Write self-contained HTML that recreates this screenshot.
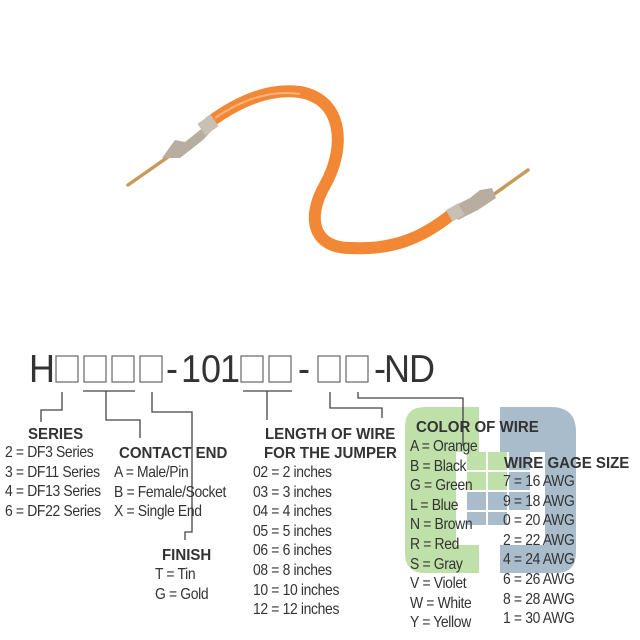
<!DOCTYPE html>
<html><head><meta charset="utf-8"><style>
body{margin:0;width:640px;height:640px;background:#fff;position:relative;overflow:hidden;font-family:"Liberation Sans",sans-serif;color:#333}
.t{position:absolute;font-size:16px;line-height:19.6px;white-space:nowrap;letter-spacing:-0.4px;transform:scaleX(0.87);transform-origin:0 0}
.h{position:absolute;font-size:16px;font-weight:bold;white-space:nowrap;color:#333;transform:scaleX(0.94);transform-origin:0 0;line-height:19.5px}
</style></head><body>
<svg width="640" height="640" style="position:absolute;left:0;top:0">
<path d="M210 122 C240 100 270 88 300 92 C345 100 345 150 325 185 C305 220 315 248 350 248 C390 250 420 240 452 214" stroke="#f28835" stroke-width="12" fill="none" stroke-linecap="round"/>
<path d="M215 118 C245 98 272 90 300 94" stroke="#f8b27a" stroke-width="2" fill="none"/>
<line x1="128" y1="185" x2="168" y2="157" stroke="#c89a5a" stroke-width="3.5" stroke-linecap="round"/>
<path d="M162 158 L175 140 L185 142 L200 130 L208 124 L214 128 L203 140 L180 158 Z" fill="#b8aea0"/>
<rect x="200" y="118" width="16" height="14" fill="#c8c0b4" transform="rotate(-35 208 125)"/>
<line x1="493" y1="195" x2="528" y2="170" stroke="#c89a5a" stroke-width="3.5" stroke-linecap="round"/>
<path d="M450 208 L470 198 L480 190 L492 188 L496 198 L478 210 L458 220 Z" fill="#b8aea0"/>
<rect x="448" y="206" width="14" height="13" fill="#c8c0b4" transform="rotate(-30 455 212)"/>
<path d="M425 407 H479 V452 H456 V545 H479 V573 H425 Q405 573 405 553 V427 Q405 407 425 407 Z" fill="#bfe0a8"/>
<path d="M500 407 H551 Q576 407 576 432 V553 Q576 573 556 573 H500 V545 H545 V452 H500 Z" fill="#a9bccb"/>
<g>
<rect x="467" y="452" width="19" height="18" fill="#bfe0a8"/><rect x="488" y="452" width="19" height="18" fill="#bfe0a8"/><rect x="509" y="452" width="21" height="18" fill="#a9bccb"/>
<rect x="467" y="472" width="19" height="18" fill="#bfe0a8"/><rect x="488" y="472" width="19" height="18" fill="#bfe0a8"/><rect x="509" y="472" width="21" height="18" fill="#a9bccb"/>
<rect x="467" y="492" width="19" height="18" fill="#a9bccb"/><rect x="488" y="492" width="19" height="18" fill="#a9bccb"/><rect x="509" y="492" width="21" height="18" fill="#a9bccb"/>
<rect x="467" y="512" width="19" height="13" fill="#a9bccb"/><rect x="488" y="512" width="19" height="13" fill="#a9bccb"/>
</g>
<g fill="none" stroke="#666" stroke-width="1.2">
<rect x="56" y="356" width="22" height="26"/><rect x="84" y="356" width="22" height="26"/><rect x="112" y="356" width="22" height="26"/><rect x="140" y="356" width="22" height="26"/>
<rect x="241" y="356" width="22" height="26"/><rect x="269" y="356" width="22" height="26"/>
<rect x="318" y="356" width="22" height="26"/><rect x="346" y="356" width="22" height="26"/>
</g>
<g fill="none" stroke="#444" stroke-width="1.3">
<polyline points="62,392 62,410 41,410 41,422"/>
<line x1="83" y1="391" x2="135" y2="391"/><polyline points="106,391 106,420 140,420 140,438"/>
<polyline points="152,392 152,412 192,412 192,532 185,532 185,540"/>
<line x1="243" y1="391" x2="292" y2="391"/><line x1="267" y1="391" x2="267" y2="420"/>
<polyline points="330,392 330,408 382,408 382,418"/>
<polyline points="358,392 358,398 463,398 463,446"/>
</g>
<g font-family="Liberation Sans" font-size="36" fill="#333" transform="translate(0,382) scale(1,1.08) translate(0,-382)">
<text x="29" y="382">H</text>
<text x="166" y="382">-</text><text x="181" y="382">1</text><text x="201" y="382">0</text><text x="220" y="382">1</text>
<text x="298" y="382">-</text>
<text x="374" y="382">-</text><text x="384" y="382">N</text><text x="409" y="382">D</text>
</g>
</svg>
<div class="h" style="left:28px;top:425px">SERIES</div>
<div class="t" style="left:5px;top:443px">2 = DF3 Series<br>3 = DF11 Series<br>4 = DF13 Series<br>6 = DF22 Series</div>
<div class="h" style="left:119px;top:444px">CONTACT END</div>
<div class="t" style="left:114px;top:463px">A = Male/Pin<br>B = Female/Socket<br>X = Single End</div>
<div class="h" style="left:162px;top:546px">FINISH</div>
<div class="t" style="left:155px;top:565px">T = Tin<br>G = Gold</div>
<div class="h" style="left:265px;top:425px">LENGTH OF WIRE</div>
<div class="h" style="left:264px;top:444px">FOR THE JUMPER</div>
<div class="t" style="left:253px;top:463px">02 = 2 inches<br>03 = 3 inches<br>04 = 4 inches<br>05 = 5 inches<br>06 = 6 inches<br>08 = 8 inches<br>10 = 10 inches<br>12 = 12 inches</div>
<div class="h" style="left:416px;top:418px">COLOR OF WIRE</div>
<div class="t" style="left:410px;top:437px">A = Orange<br>B = Black<br>G = Green<br>L = Blue<br>N = Brown<br>R = Red<br>S = Gray<br>V = Violet<br>W = White<br>Y = Yellow</div>
<div class="h" style="left:504px;top:454px">WIRE GAGE SIZE</div>
<div class="t" style="left:503px;top:472px">7 = 16 AWG<br>9 = 18 AWG<br>0 = 20 AWG<br>2 = 22 AWG<br>4 = 24 AWG<br>6 = 26 AWG<br>8 = 28 AWG<br>1 = 30 AWG</div>
</body></html>
